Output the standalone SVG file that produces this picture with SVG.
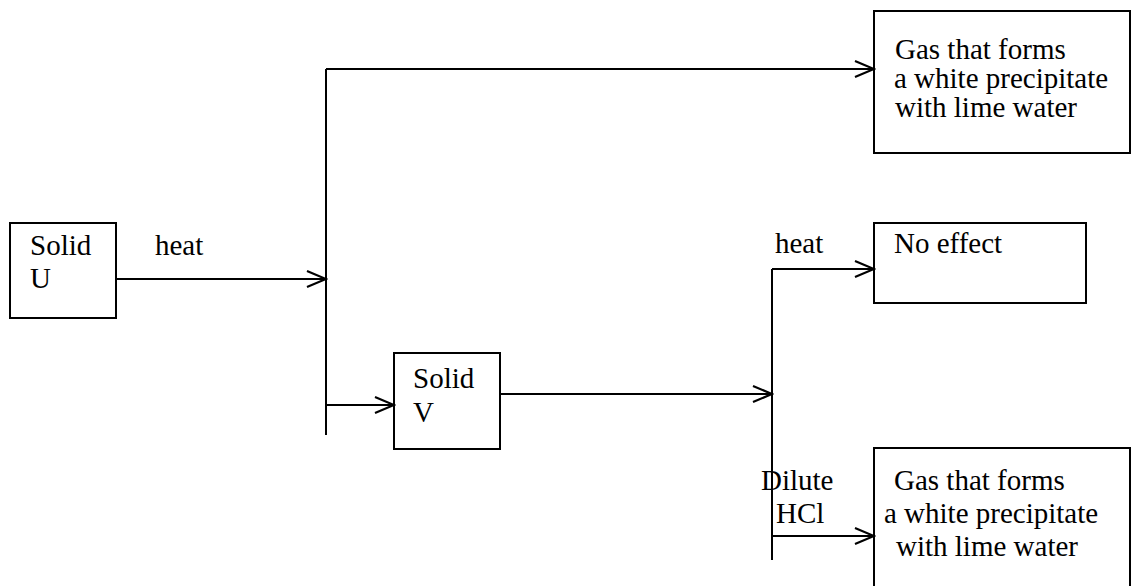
<svg xmlns="http://www.w3.org/2000/svg" width="1132" height="586" viewBox="0 0 1132 586">
<style>
.box{fill:none;stroke:#000;stroke-width:2}
.ln{fill:none;stroke:#000;stroke-width:2}
.arr{marker-end:url(#ah)}
text{font-family:"Liberation Serif","Times New Roman",serif;font-size:29px;fill:#000}
</style>
<defs>
<marker id="ah" markerUnits="userSpaceOnUse" markerWidth="24" markerHeight="24" viewBox="-22 -12 24 24" refX="0" refY="0" orient="auto">
<path d="M-19,-8 L0,0 L-19,8" fill="none" stroke="#000" stroke-width="2.2"/>
</marker>
</defs>
<rect width="1132" height="586" fill="#fff"/>
<g id="solidU">
<rect class="box" x="10" y="223" width="106" height="95"/>
<text x="30" y="255">Solid</text>
<text x="30" y="288">U</text>
</g>
<g id="gasTop">
<rect class="box" x="874" y="11" width="256" height="142"/>
<text x="895" y="59">Gas that forms</text>
<text x="894" y="88">a white precipitate</text>
<text x="895" y="117">with lime water</text>
</g>
<g id="noEffect">
<rect class="box" x="874" y="223" width="212" height="80"/>
<text x="894" y="253">No effect</text>
</g>
<g id="solidV">
<rect class="box" x="394" y="353" width="106" height="96"/>
<text x="413" y="388">Solid</text>
<text x="413" y="422">V</text>
</g>
<g id="gasBottom">
<path class="box" d="M874,590 V448 H1130 V590"/>
<text x="894" y="490">Gas that forms</text>
<text x="884" y="523">a white precipitate</text>
<text x="896" y="556">with lime water</text>
</g>
<g id="connectors">
<line class="ln arr" x1="116" y1="279" x2="326" y2="279"/>
<line class="ln" x1="326" y1="69" x2="326" y2="435"/>
<line class="ln arr" x1="326" y1="69" x2="874" y2="69"/>
<line class="ln arr" x1="326" y1="405" x2="394" y2="405"/>
<line class="ln arr" x1="500" y1="394" x2="772" y2="394"/>
<line class="ln" x1="772" y1="269" x2="772" y2="560"/>
<line class="ln arr" x1="772" y1="269" x2="874" y2="269"/>
<line class="ln arr" x1="772" y1="536" x2="874" y2="536"/>
<text x="155" y="255">heat</text>
<text x="775" y="253">heat</text>
<text x="761" y="490">Dilute</text>
<text x="776" y="523">HCl</text>
</g>
</svg>
